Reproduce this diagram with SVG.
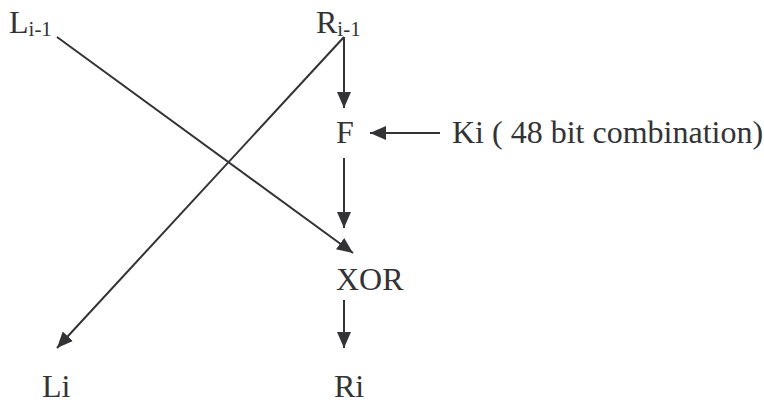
<svg xmlns="http://www.w3.org/2000/svg" width="764" height="402" viewBox="0 0 764 402">
<defs>
<style>
text{font-family:'Liberation Serif','Tinos','Times New Roman','DejaVu Serif',serif;font-size:32px;fill:#333336}
.sub{font-size:21px}
.ln{stroke:#333336;stroke-width:2;fill:none}
</style>
<marker id="ah" viewBox="0 0 16 14" refX="16" refY="7" markerWidth="16" markerHeight="14" markerUnits="userSpaceOnUse" orient="auto">
<path d="M0,0 L16,7 L0,14 Z" fill="#333336"/>
</marker>
</defs>
<rect width="764" height="402" fill="#fff"/>
<g id="connectors">
<line class="ln" x1="57" y1="37" x2="353" y2="253" marker-end="url(#ah)"/>
<line class="ln" x1="344" y1="37" x2="57" y2="348" marker-end="url(#ah)"/>
<line class="ln" x1="344" y1="37" x2="344" y2="108" marker-end="url(#ah)"/>
<line class="ln" x1="440" y1="133" x2="370" y2="133" marker-end="url(#ah)"/>
<line class="ln" x1="344" y1="158" x2="344" y2="228" marker-end="url(#ah)"/>
<line class="ln" x1="344" y1="300" x2="344" y2="348" marker-end="url(#ah)"/>
</g>
<g id="L_prev"><text x="9" y="33" font-family="Liberation Serif, serif">L<tspan class="sub" dy="3">i-1</tspan></text></g>
<g id="R_prev"><text x="316" y="33" font-family="Liberation Serif, serif">R<tspan class="sub" dy="3">i-1</tspan></text></g>
<g id="F"><text x="336" y="143">F</text></g>
<g id="Ki"><text x="452" y="143">Ki ( 48 bit combination)</text></g>
<g id="XOR"><text x="336" y="290">XOR</text></g>
<g id="Li"><text x="42" y="397">Li</text></g>
<g id="Ri"><text x="334" y="397">Ri</text></g>
</svg>
